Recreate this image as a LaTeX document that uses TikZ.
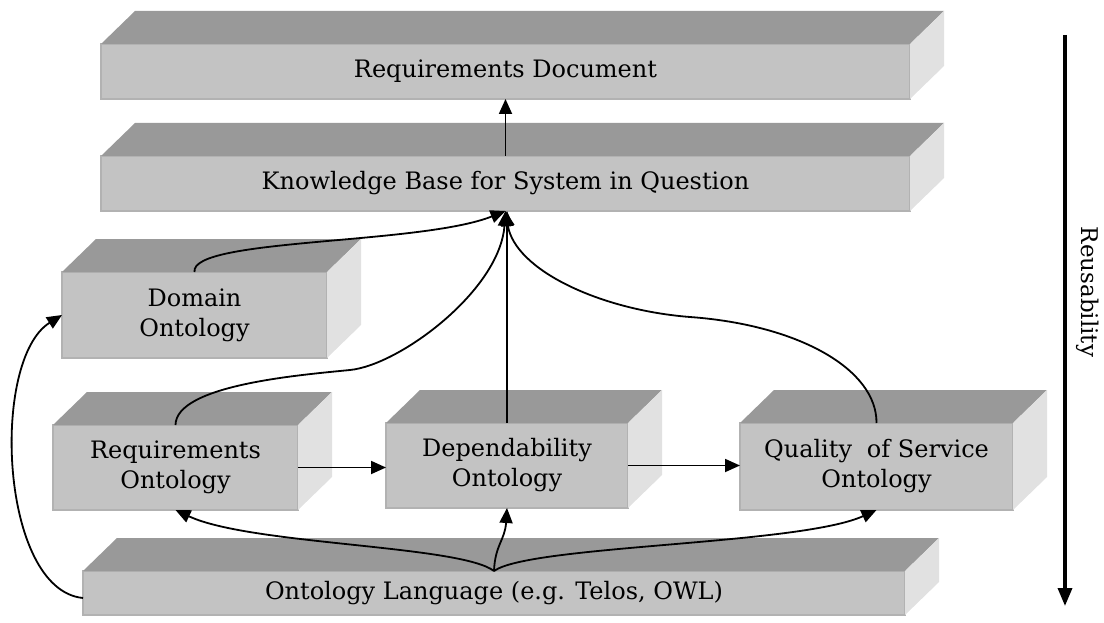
\documentclass[tikz,border=0pt]{standalone}
\usepackage{fontspec}
\setmainfont{DejaVu Serif}
\usetikzlibrary{arrows.meta,calc}
\definecolor{topc}{HTML}{999999}
\definecolor{frontc}{HTML}{C3C3C3}
\definecolor{sidec}{HTML}{E1E1E1}
\definecolor{edgec}{HTML}{B2B2B2}
\tikzset{
  front/.style={fill=frontc, draw=edgec, line width=1.2pt, inner sep=0pt, outer sep=0pt,
    anchor=north west, font=\fontsize{24}{30}\selectfont, align=center, text=black},
  conn/.style={line width=1.8pt, -{Triangle[length=15pt,width=13pt]}},
}
\newcommand\cuboid[6]{%
  \node[front, minimum width={(#4-#2)*1pt}, minimum height={(#5-#3)*1pt}] (#1) at (#2,#3) {#6};
  \fill[topc] (#1.north west) -- ++(34,-33) -- ($(#1.north east)+(34,-33)$) -- (#1.north east) -- cycle;
  \fill[sidec] (#1.north east) -- ++(34,-33) -- ($(#1.south east)+(34,-33)$) -- (#1.south east) -- cycle;
}
\begin{document}
\begin{tikzpicture}[x=1pt,y=-1pt]
\useasboundingbox (0,0) rectangle (1104,623);
\cuboid{reqdoc}{101}{44}{910}{99}{\raisebox{-2pt}{Requirements Document}}
\cuboid{kb}{101}{156}{910}{211}{Knowledge Base for System in Question}
\cuboid{dom}{62}{272}{327}{358}{Domain\\Ontology}
\cuboid{reqo}{53}{425}{298}{510}{Requirements\\Ontology}
\cuboid{depo}{386}{423}{628}{508}{Dependability\\Ontology}
\cuboid{qos}{740}{423}{1013}{510}{Quality\hspace{0.3em} of Service\\Ontology}
\cuboid{lang}{83}{571}{905}{615}{\raisebox{-5pt}{Ontology Language (e.g. Telos, OWL)}}

% connectors
\draw[conn] (kb.north) -- (reqdoc.south);
\draw[conn] (dom.north) .. controls (190,238) and (420,245) .. (kb.south);
\draw[conn] (reqo.north) .. controls (176,385) and (300,375) .. (350,370)
   .. controls (400,365) and (500,290) .. (kb.south);
\draw[conn] (depo.north) -- (depo.north |- kb.south);
\draw[conn] (qos.north) .. controls (877,370) and (800,325) .. (690,317)
   .. controls (600,310) and (515,270) .. (kb.south);
\draw[conn] (reqo.east) -- (reqo.east -| depo.west);
\draw[conn] (depo.east) -- (depo.east -| qos.west);
\draw[conn] (lang.north) .. controls (460,545) and (250,545) .. (reqo.south);
\draw[conn] (lang.north) .. controls (495,545) and (505,540) .. (depo.south);
\draw[conn] (lang.north) .. controls (530,545) and (800,545) .. (qos.south);
\draw[conn] ([yshift=-5pt]lang.west) .. controls (0,590) and (-10,360) .. (dom.west);

% reusability
\coordinate (rtop) at (1065,35);
\coordinate (rbot) at (1065,606);
\draw[line width=3.4pt, -{Triangle[length=18pt,width=14pt]}] (rtop) -- (rbot);
\node[rotate=-90, font=\fontsize{23}{28}\selectfont] (reus) at (1088,292) {Reusability};
\end{tikzpicture}
\end{document}
